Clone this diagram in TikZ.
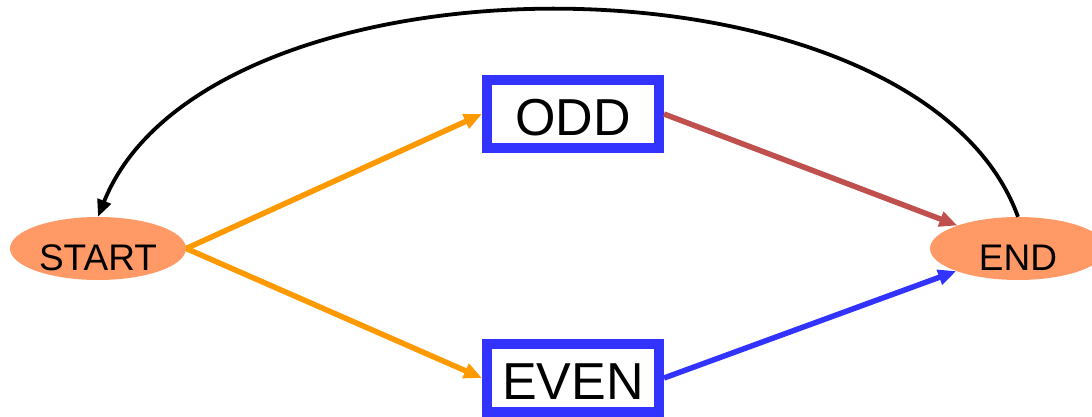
\documentclass[tikz,border=0pt]{standalone}
\usepackage{fontspec}
\setmainfont{Liberation Sans}
\usetikzlibrary{arrows.meta,shapes.geometric}
\definecolor{salmon}{HTML}{FF9966}
\definecolor{amber}{HTML}{FF9900}
\definecolor{brick}{HTML}{C0504D}
\definecolor{royal}{HTML}{3333FF}
\begin{document}
\begin{tikzpicture}[x=1pt, y=1pt,
  terminal/.style={ellipse, fill=salmon, minimum width=176pt, minimum height=63pt, inner sep=0pt, text height=44pt, text depth=0pt, font=\fontsize{37}{40}\selectfont},
  stage/.style={draw=royal, line width=10pt, fill=white, minimum width=172pt, minimum height=68pt, inner sep=0pt, text height=43pt, text depth=0pt, font=\fontsize{52}{58}\selectfont},
  flow/.style={line width=5.5pt, -{Triangle[length=18pt, width=15pt]}}]
\useasboundingbox (0,0) rectangle (1092,416);
\node[terminal] (start) at (98,167.5) {START};
\node[terminal] (end) at (1018,167.5) {END};
\node[stage] (odd) at (573,302) {ODD};
\node[stage] (even) at (573,38) {EVEN};
\draw[flow, amber] (start.east) -- (odd.west);
\draw[flow, amber] (start.east) -- (even.west);
\draw[flow, brick] (odd.east) -- (end);
\draw[flow, royal] (even.east) -- (end);
\draw[line width=3.8pt, -{Triangle[length=17pt, width=14pt]}] (end.north) .. controls +(-100,275) and +(110,275) .. (start.north);
\end{tikzpicture}
\end{document}
